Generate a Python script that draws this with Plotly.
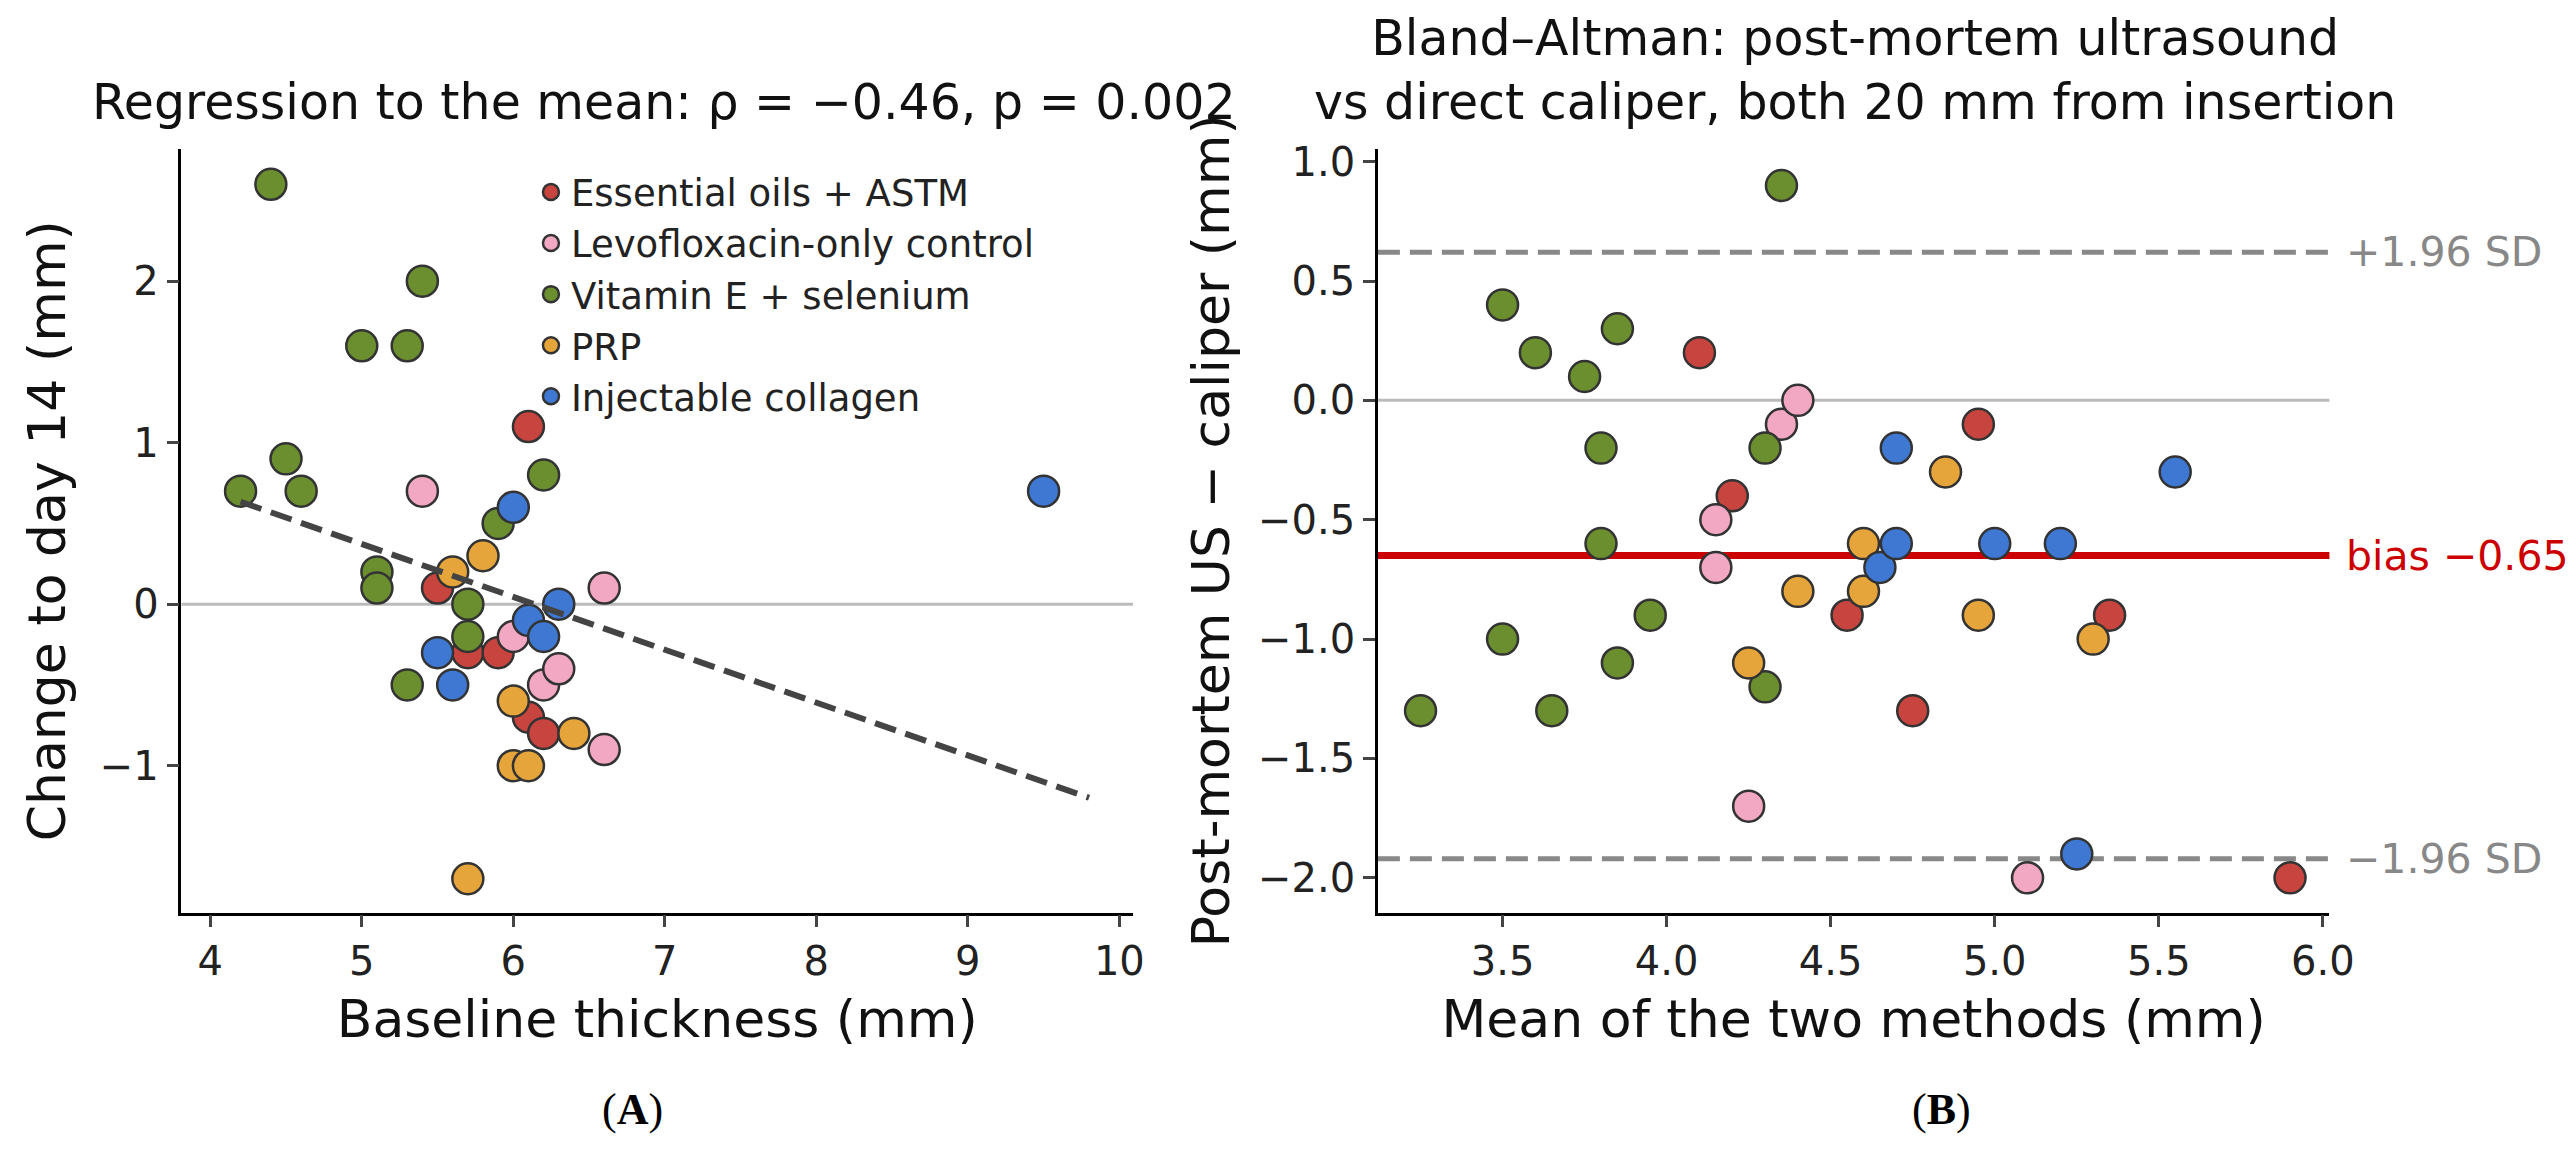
import numpy as np
import plotly.graph_objects as go

groups = ["Essential oils + ASTM", "Levofloxacin-only control", "Vitamin E + selenium", "PRP", "Injectable collagen"]
colors = ["#c8443f", "#f2a7c3", "#6b8e2f", "#e5a53a", "#3e78d2"]

# Panel A: baseline thickness vs change to day 14
a_x = {
    "Essential oils + ASTM": [5.5, 5.7, 5.9, 6.1, 6.2, 6.1],
    "Levofloxacin-only control": [5.4, 6.0, 6.2, 6.3, 6.6, 6.6],
    "Vitamin E + selenium": [4.4, 4.2, 4.5, 4.6, 5.0, 5.3, 5.4, 5.1, 5.1, 5.3, 5.7, 5.7, 5.9, 6.2],
    "PRP": [5.6, 5.8, 6.0, 6.0, 6.1, 6.4, 5.7],
    "Injectable collagen": [5.5, 5.6, 6.0, 6.1, 6.2, 6.3, 9.5],
}
a_y = {
    "Essential oils + ASTM": [0.1, -0.3, -0.3, -0.7, -0.8, 1.1],
    "Levofloxacin-only control": [0.7, -0.2, -0.5, -0.4, 0.1, -0.9],
    "Vitamin E + selenium": [2.6, 0.7, 0.9, 0.7, 1.6, 1.6, 2.0, 0.2, 0.1, -0.5, 0.0, -0.2, 0.5, 0.8],
    "PRP": [0.2, 0.3, -0.6, -1.0, -1.0, -0.8, -1.7],
    "Injectable collagen": [-0.3, -0.5, 0.6, -0.1, -0.2, 0.0, 0.7],
}
# Panel B: Bland-Altman
b_x = {
    "Essential oils + ASTM": [4.1, 4.2, 4.55, 4.75, 4.95, 5.35, 5.9],
    "Levofloxacin-only control": [4.15, 4.15, 4.35, 4.4, 4.25, 5.1],
    "Vitamin E + selenium": [3.25, 3.5, 3.5, 3.6, 3.65, 3.75, 3.8, 3.8, 3.85, 3.85, 3.95, 4.3, 4.3, 4.35],
    "PRP": [4.25, 4.4, 4.6, 4.6, 4.85, 4.95, 5.3],
    "Injectable collagen": [4.65, 4.7, 4.7, 5.0, 5.2, 5.25, 5.55],
}
b_y = {
    "Essential oils + ASTM": [0.2, -0.4, -0.9, -1.3, -0.1, -0.9, -2.0],
    "Levofloxacin-only control": [-0.5, -0.7, -0.1, 0.0, -1.7, -2.0],
    "Vitamin E + selenium": [-1.3, 0.4, -1.0, 0.2, -1.3, 0.1, -0.2, -0.6, 0.3, -1.1, -0.9, -0.2, -1.2, 0.9],
    "PRP": [-1.1, -0.8, -0.6, -0.8, -0.3, -0.9, -1.0],
    "Injectable collagen": [-0.7, -0.6, -0.2, -0.6, -0.6, -1.9, -0.3],
}
bias = -0.65
upper_loa = 0.62
lower_loa = -1.92

FONT = "DejaVu Sans"
fig = go.Figure()

for g, c in zip(groups, colors):
    fig.add_trace(go.Scatter(x=a_x[g], y=a_y[g], mode="markers", name=g,
                             marker=dict(color=c, size=31, line=dict(color="#333", width=2.5)),
                             xaxis="x", yaxis="y"))
for g, c in zip(groups, colors):
    fig.add_trace(go.Scatter(x=b_x[g], y=b_y[g], mode="markers", name=g, showlegend=False,
                             marker=dict(color=c, size=31, line=dict(color="#333", width=2.5)),
                             xaxis="x2", yaxis="y2"))

allx = np.concatenate([a_x[g] for g in groups])
ally = np.concatenate([a_y[g] for g in groups])
k, b0 = np.polyfit(allx, ally, 1)
lx = np.array([allx.min(), allx.max() + 0.3])
fig.add_trace(go.Scatter(x=lx, y=k * lx + b0, mode="lines", showlegend=False,
                         line=dict(color="#444", width=6, dash="22px,10px"), xaxis="x", yaxis="y"))

shapes = [
    dict(type="line", xref="x domain", yref="y", x0=0, x1=1, y0=0, y1=0, line=dict(color="#bbbbbb", width=3), layer="below"),
    dict(type="line", xref="x2 domain", yref="y2", x0=0, x1=1, y0=0, y1=0, line=dict(color="#bbbbbb", width=3), layer="below"),
    dict(type="line", xref="x2 domain", yref="y2", x0=0, x1=1, y0=bias, y1=bias, line=dict(color="#cc0000", width=7), layer="below"),
    dict(type="line", xref="x2 domain", yref="y2", x0=0, x1=1, y0=upper_loa, y1=upper_loa, line=dict(color="#888888", width=5, dash="22px,10px"), layer="below"),
    dict(type="line", xref="x2 domain", yref="y2", x0=0, x1=1, y0=lower_loa, y1=lower_loa, line=dict(color="#888888", width=5, dash="22px,10px"), layer="below"),
]
ann = [
    dict(text="+1.96 SD", xref="x2 domain", yref="y2", x=1.015, y=upper_loa, xanchor="left", showarrow=False, font=dict(size=41, color="#888888", family=FONT)),
    dict(text="bias −0.65", xref="x2 domain", yref="y2", x=1.015, y=bias, xanchor="left", showarrow=False, font=dict(size=41, color="#cc0000", family=FONT)),
    dict(text="−1.96 SD", xref="x2 domain", yref="y2", x=1.015, y=lower_loa, xanchor="left", showarrow=False, font=dict(size=41, color="#888888", family=FONT)),
    dict(text="Regression to the mean: ρ = −0.46, p = 0.002", xref="paper", yref="paper", x=0.257, y=0.9, xanchor="center", yanchor="bottom", showarrow=False, font=dict(size=49, color="#111", family=FONT)),
    dict(text="Bland–Altman: post-mortem ultrasound<br>vs direct caliper, both 20 mm from insertion", xref="paper", yref="paper", x=0.724, y=0.9, xanchor="center", yanchor="bottom", showarrow=False, font=dict(size=49, color="#111", family=FONT)),
    dict(text="(<b>A</b>)", xref="paper", yref="paper", x=0.245, y=0.025, xanchor="center", showarrow=False, font=dict(size=44, color="#000", family="Liberation Serif")),
    dict(text="(<b>B</b>)", xref="paper", yref="paper", x=0.758, y=0.025, xanchor="center", showarrow=False, font=dict(size=44, color="#000", family="Liberation Serif")),
]

axis_common = dict(showline=True, linecolor="#000", linewidth=2.5, ticks="outside", ticklen=12, tickwidth=2.5,
                   showgrid=False, zeroline=False, tickfont=dict(size=40, color="#222", family=FONT),
                   title_font=dict(size=52, color="#111", family=FONT))
fig.update_layout(
    width=2576, height=1157, paper_bgcolor="white", plot_bgcolor="white",
    margin=dict(l=0, r=0, t=0, b=0),
    shapes=shapes, annotations=ann,
    xaxis=dict(domain=[0.068, 0.441], range=[3.81, 10.09], tickvals=[4, 5, 6, 7, 8, 9, 10],
               title=dict(text="Baseline thickness (mm)", standoff=18), anchor="y", **axis_common),
    yaxis=dict(domain=[0.22, 0.886], range=[-1.91, 2.82], tickvals=[-1, 0, 1, 2], ticktext=["−1", "0", "1", "2"],
               title=dict(text="Change to day 14 (mm)", standoff=18), anchor="x", **axis_common),
    xaxis2=dict(domain=[0.537, 0.91], range=[3.12, 6.02], tickvals=[3.5, 4.0, 4.5, 5.0, 5.5, 6.0], tickformat=".1f",
                title=dict(text="Mean of the two methods (mm)", standoff=18), anchor="y2", **axis_common),
    yaxis2=dict(domain=[0.22, 0.886], range=[-2.146, 1.054], tickvals=[-2, -1.5, -1, -0.5, 0, 0.5, 1.0],
                ticktext=["−2.0", "−1.5", "−1.0", "−0.5", "0.0", "0.5", "1.0"],
                title=dict(text="Post-mortem US − caliper (mm)", standoff=12), anchor="x2", **axis_common),
    legend=dict(x=0.205, y=0.875, xanchor="left", yanchor="top", bgcolor="rgba(0,0,0,0)",
                font=dict(size=37, color="#222", family=FONT), tracegroupgap=10),
    showlegend=True,
)
fig.write_html("out.html")
